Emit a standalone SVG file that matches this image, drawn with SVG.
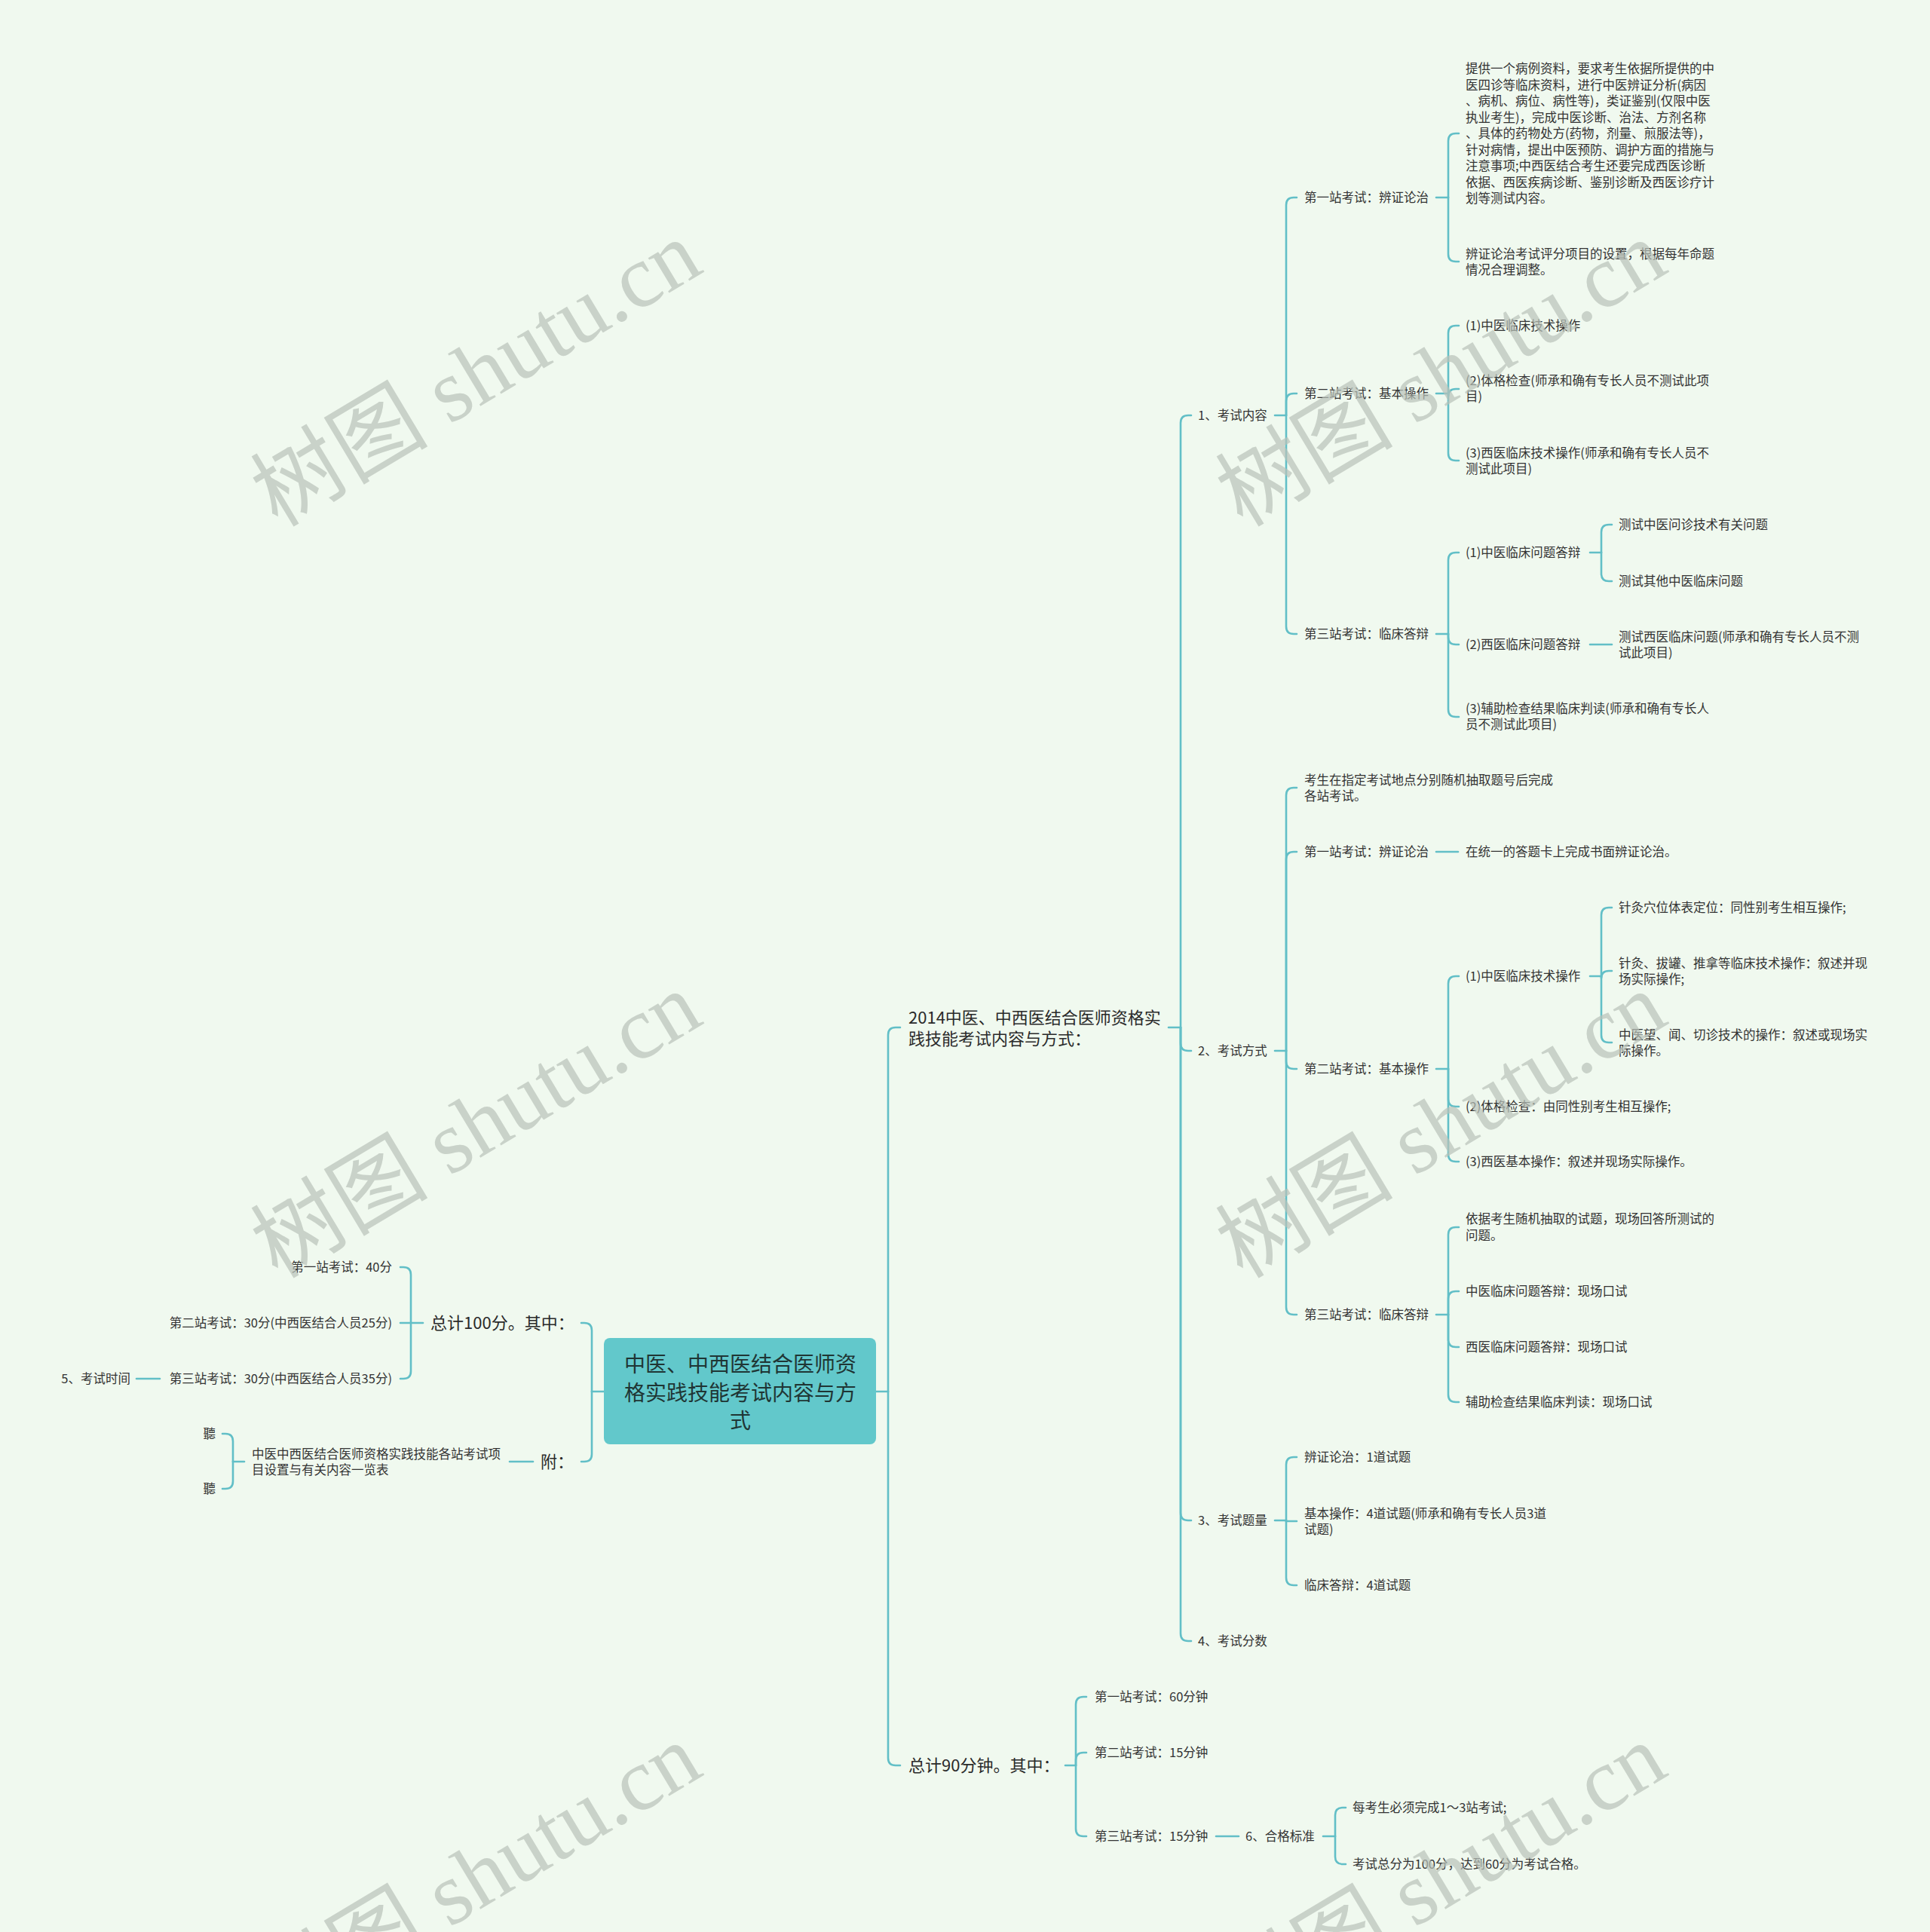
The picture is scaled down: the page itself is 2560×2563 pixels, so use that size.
<svg xmlns="http://www.w3.org/2000/svg" width="2560" height="2563" viewBox="0 0 2560 2563">
<style>
.bg{fill:#f0f9ef}
.ln{fill:none;stroke:#62bfc7;stroke-width:2.6;stroke-linecap:round}
text{font-family:"Noto Sans CJK SC","Noto Sans",sans-serif;fill:#333}
.t{font-size:16.5px}
.m{font-size:22px;fill:#2a2a2a}
.c{font-size:28px;fill:#1f3534}
.e{text-anchor:end}
.wm{font-family:"Liberation Serif","Noto Sans CJK SC",serif;font-size:118px;fill:#b9c2b9;opacity:0.7;text-anchor:middle}
</style>
<rect class="bg" x="0" y="0" width="2560" height="2563"/>

<g id="connectors">
<path class="ln" d="M1162,1846 H1178"/>
<path class="ln" d="M1178,1846 V1373 Q1178,1363 1188,1363 H1194"/>
<path class="ln" d="M1178,1846 V2332 Q1178,2342 1188,2342 H1194"/>
<path class="ln" d="M1550,1363 H1566"/>
<path class="ln" d="M1566,1363 V561 Q1566,551 1576,551 H1580"/>
<path class="ln" d="M1566,1363 V1384 Q1566,1394 1576,1394 H1580"/>
<path class="ln" d="M1566,1363 V2007 Q1566,2017 1576,2017 H1580"/>
<path class="ln" d="M1566,1363 V2167 Q1566,2177 1576,2177 H1580"/>
<path class="ln" d="M1691,551 H1706"/>
<path class="ln" d="M1706,551 V272 Q1706,262 1716,262 H1720"/>
<path class="ln" d="M1706,551 V532 Q1706,522 1716,522 H1720"/>
<path class="ln" d="M1706,551 V831 Q1706,841 1716,841 H1720"/>
<path class="ln" d="M1905,262 H1921"/>
<path class="ln" d="M1921,262 V187 Q1921,177 1931,177 H1935"/>
<path class="ln" d="M1921,262 V337 Q1921,347 1931,347 H1935"/>
<path class="ln" d="M1905,522 H1921"/>
<path class="ln" d="M1921,522 V442 Q1921,432 1931,432 H1935"/>
<path class="ln" d="M1921,522 V526 Q1921,516 1931,516 H1935"/>
<path class="ln" d="M1921,522 V601 Q1921,611 1931,611 H1935"/>
<path class="ln" d="M1905,841 H1921"/>
<path class="ln" d="M1921,841 V743 Q1921,733 1931,733 H1935"/>
<path class="ln" d="M1921,841 V845 Q1921,855 1931,855 H1935"/>
<path class="ln" d="M1921,841 V941 Q1921,951 1931,951 H1935"/>
<path class="ln" d="M2109,733 H2124"/>
<path class="ln" d="M2124,733 V706 Q2124,696 2134,696 H2138"/>
<path class="ln" d="M2124,733 V761 Q2124,771 2134,771 H2138"/>
<path class="ln" d="M2109,855 H2138"/>
<path class="ln" d="M1691,1394 H1706"/>
<path class="ln" d="M1706,1394 V1055 Q1706,1045 1716,1045 H1720"/>
<path class="ln" d="M1706,1394 V1140 Q1706,1130 1716,1130 H1720"/>
<path class="ln" d="M1706,1394 V1408 Q1706,1418 1716,1418 H1720"/>
<path class="ln" d="M1706,1394 V1734 Q1706,1744 1716,1744 H1720"/>
<path class="ln" d="M1905,1130 H1934"/>
<path class="ln" d="M1905,1418 H1921"/>
<path class="ln" d="M1921,1418 V1305 Q1921,1295 1931,1295 H1935"/>
<path class="ln" d="M1921,1418 V1458 Q1921,1468 1931,1468 H1935"/>
<path class="ln" d="M1921,1418 V1531 Q1921,1541 1931,1541 H1935"/>
<path class="ln" d="M2109,1295 H2124"/>
<path class="ln" d="M2124,1295 V1214 Q2124,1204 2134,1204 H2138"/>
<path class="ln" d="M2124,1295 V1298 Q2124,1288 2134,1288 H2138"/>
<path class="ln" d="M2124,1295 V1373 Q2124,1383 2134,1383 H2138"/>
<path class="ln" d="M1905,1744 H1921"/>
<path class="ln" d="M1921,1744 V1638 Q1921,1628 1931,1628 H1935"/>
<path class="ln" d="M1921,1744 V1723 Q1921,1713 1931,1713 H1935"/>
<path class="ln" d="M1921,1744 V1777 Q1921,1787 1931,1787 H1935"/>
<path class="ln" d="M1921,1744 V1850 Q1921,1860 1931,1860 H1935"/>
<path class="ln" d="M1691,2017 H1706"/>
<path class="ln" d="M1706,2017 V1943 Q1706,1933 1716,1933 H1720"/>
<path class="ln" d="M1706,2017 V2018 H1720"/>
<path class="ln" d="M1706,2017 V2093 Q1706,2103 1716,2103 H1720"/>
<path class="ln" d="M1413,2342 H1427"/>
<path class="ln" d="M1427,2342 V2261 Q1427,2251 1437,2251 H1441"/>
<path class="ln" d="M1427,2342 V2335 Q1427,2325 1437,2325 H1441"/>
<path class="ln" d="M1427,2342 V2426 Q1427,2436 1437,2436 H1441"/>
<path class="ln" d="M1613,2436 H1643"/>
<path class="ln" d="M1755,2436 H1771"/>
<path class="ln" d="M1771,2436 V2408 Q1771,2398 1781,2398 H1785"/>
<path class="ln" d="M1771,2436 V2463 Q1771,2473 1781,2473 H1785"/>
<path class="ln" d="M801,1846 H785"/>
<path class="ln" d="M785,1846 V1765 Q785,1755 775,1755 H771"/>
<path class="ln" d="M785,1846 V1929 Q785,1939 775,1939 H771"/>
<path class="ln" d="M561,1755 H545"/>
<path class="ln" d="M545,1755 V1691 Q545,1681 535,1681 H531"/>
<path class="ln" d="M545,1755 H531"/>
<path class="ln" d="M545,1755 V1819 Q545,1829 535,1829 H531"/>
<path class="ln" d="M212,1829 H181"/>
<path class="ln" d="M707,1939 H676"/>
<path class="ln" d="M324,1939 H309"/>
<path class="ln" d="M309,1939 V1912 Q309,1902 299,1902 H295"/>
<path class="ln" d="M309,1939 V1965 Q309,1975 299,1975 H295"/>
</g>

<g id="center">
<rect x="801" y="1775" width="361" height="141" rx="8" fill="#62c8cb"/>
<text class="c" text-anchor="middle"><tspan x="982" y="1820">中医、中西医结合医师资</tspan><tspan x="982" y="1858">格实践技能考试内容与方</tspan><tspan x="982" y="1895">式</tspan></text>
</g>

<g id="n2014"><text class="m"><tspan x="1205" y="1358">2014中医、中西医结合医师资格实</tspan><tspan x="1205" y="1386">践技能考试内容与方式：</tspan></text></g>
<g id="n90"><text class="m" x="1205" y="2350">总计90分钟。其中：</text></g>

<g id="l1-1"><text class="t" x="1589" y="557">1、考试内容</text></g>
<g id="l1-2"><text class="t" x="1589" y="1400">2、考试方式</text></g>
<g id="l1-3"><text class="t" x="1589" y="2023">3、考试题量</text></g>
<g id="l1-4"><text class="t" x="1589" y="2183">4、考试分数</text></g>

<g id="a1"><text class="t" x="1730" y="268">第一站考试：辨证论治</text></g>
<g id="a1-1"><text class="t"><tspan x="1944" y="97">提供一个病例资料，要求考生依据所提供的中</tspan><tspan x="1944" y="118.5">医四诊等临床资料，进行中医辨证分析(病因</tspan><tspan x="1944" y="140">、病机、病位、病性等)，类证鉴别(仅限中医</tspan><tspan x="1944" y="161.5">执业考生)，完成中医诊断、治法、方剂名称</tspan><tspan x="1944" y="183">、具体的药物处方(药物，剂量、煎服法等)，</tspan><tspan x="1944" y="204.5">针对病情，提出中医预防、调护方面的措施与</tspan><tspan x="1944" y="226">注意事项;中西医结合考生还要完成西医诊断</tspan><tspan x="1944" y="247.5">依据、西医疾病诊断、鉴别诊断及西医诊疗计</tspan><tspan x="1944" y="269">划等测试内容。</tspan></text></g>
<g id="a1-2"><text class="t"><tspan x="1944" y="343">辨证论治考试评分项目的设置，根据每年命题</tspan><tspan x="1944" y="364">情况合理调整。</tspan></text></g>

<g id="a2"><text class="t" x="1730" y="528">第二站考试：基本操作</text></g>
<g id="a2-1"><text class="t" x="1944" y="438">(1)中医临床技术操作</text></g>
<g id="a2-2"><text class="t"><tspan x="1944" y="511">(2)体格检查(师承和确有专长人员不测试此项</tspan><tspan x="1944" y="532">目)</tspan></text></g>
<g id="a2-3"><text class="t"><tspan x="1944" y="607">(3)西医临床技术操作(师承和确有专长人员不</tspan><tspan x="1944" y="628">测试此项目)</tspan></text></g>

<g id="a3"><text class="t" x="1730" y="847">第三站考试：临床答辩</text></g>
<g id="a3-1"><text class="t" x="1944" y="739">(1)中医临床问题答辩</text></g>
<g id="a3-1-1"><text class="t" x="2147" y="702">测试中医问诊技术有关问题</text></g>
<g id="a3-1-2"><text class="t" x="2147" y="777">测试其他中医临床问题</text></g>
<g id="a3-2"><text class="t" x="1944" y="861">(2)西医临床问题答辩</text></g>
<g id="a3-2-1"><text class="t"><tspan x="2147" y="851">测试西医临床问题(师承和确有专长人员不测</tspan><tspan x="2147" y="872">试此项目)</tspan></text></g>
<g id="a3-3"><text class="t"><tspan x="1944" y="946">(3)辅助检查结果临床判读(师承和确有专长人</tspan><tspan x="1944" y="967">员不测试此项目)</tspan></text></g>

<g id="b0"><text class="t"><tspan x="1730" y="1041">考生在指定考试地点分别随机抽取题号后完成</tspan><tspan x="1730" y="1062">各站考试。</tspan></text></g>
<g id="b1"><text class="t" x="1730" y="1136">第一站考试：辨证论治</text></g>
<g id="b1-1"><text class="t" x="1944" y="1136">在统一的答题卡上完成书面辨证论治。</text></g>
<g id="b2"><text class="t" x="1730" y="1424">第二站考试：基本操作</text></g>
<g id="b2-1"><text class="t" x="1944" y="1301">(1)中医临床技术操作</text></g>
<g id="b2-1-1"><text class="t" x="2147" y="1210">针灸穴位体表定位：同性别考生相互操作;</text></g>
<g id="b2-1-2"><text class="t"><tspan x="2147" y="1284">针灸、拔罐、推拿等临床技术操作：叙述并现</tspan><tspan x="2147" y="1305">场实际操作;</tspan></text></g>
<g id="b2-1-3"><text class="t"><tspan x="2147" y="1379">中医望、闻、切诊技术的操作：叙述或现场实</tspan><tspan x="2147" y="1400">际操作。</tspan></text></g>
<g id="b2-2"><text class="t" x="1944" y="1474">(2)体格检查：由同性别考生相互操作;</text></g>
<g id="b2-3"><text class="t" x="1944" y="1547">(3)西医基本操作：叙述并现场实际操作。</text></g>
<g id="b3"><text class="t" x="1730" y="1750">第三站考试：临床答辩</text></g>
<g id="b3-1"><text class="t"><tspan x="1944" y="1623">依据考生随机抽取的试题，现场回答所测试的</tspan><tspan x="1944" y="1645">问题。</tspan></text></g>
<g id="b3-2"><text class="t" x="1944" y="1719">中医临床问题答辩：现场口试</text></g>
<g id="b3-3"><text class="t" x="1944" y="1793">西医临床问题答辩：现场口试</text></g>
<g id="b3-4"><text class="t" x="1944" y="1866">辅助检查结果临床判读：现场口试</text></g>

<g id="c1"><text class="t" x="1730" y="1939">辨证论治：1道试题</text></g>
<g id="c2"><text class="t"><tspan x="1730" y="2014">基本操作：4道试题(师承和确有专长人员3道</tspan><tspan x="1730" y="2035">试题)</tspan></text></g>
<g id="c3"><text class="t" x="1730" y="2109">临床答辩：4道试题</text></g>

<g id="t1"><text class="t" x="1452" y="2257">第一站考试：60分钟</text></g>
<g id="t2"><text class="t" x="1452" y="2331">第二站考试：15分钟</text></g>
<g id="t3"><text class="t" x="1452" y="2442">第三站考试：15分钟</text></g>
<g id="t6"><text class="t" x="1652" y="2442">6、合格标准</text></g>
<g id="t6-1"><text class="t" x="1794" y="2404">每考生必须完成1～3站考试;</text></g>
<g id="t6-2"><text class="t" x="1794" y="2479">考试总分为100分，达到60分为考试合格。</text></g>

<g id="n100"><text class="m" x="571" y="1763">总计100分。其中：</text></g>
<g id="s1"><text class="t e" x="520" y="1687">第一站考试：40分</text></g>
<g id="s2"><text class="t e" x="520" y="1761">第二站考试：30分(中西医结合人员25分)</text></g>
<g id="s3"><text class="t e" x="520" y="1835">第三站考试：30分(中西医结合人员35分)</text></g>
<g id="s5"><text class="t e" x="173" y="1835">5、考试时间</text></g>
<g id="fu"><text class="m" x="717" y="1947">附：</text></g>
<g id="fu-1"><text class="t"><tspan x="334" y="1935">中医中西医结合医师资格实践技能各站考试项</tspan><tspan x="334" y="1956">目设置与有关内容一览表</tspan></text></g>
<g id="fu-1-1"><text class="t e" x="286" y="1908">聽</text></g>
<g id="fu-1-2"><text class="t e" x="286" y="1981">聽</text></g>

<g id="watermarks">
<text class="wm" transform="translate(652,530) rotate(-31)">树图 shutu.cn</text>
<text class="wm" transform="translate(1932,530) rotate(-31)">树图 shutu.cn</text>
<text class="wm" transform="translate(652,1527) rotate(-31)">树图 shutu.cn</text>
<text class="wm" transform="translate(1932,1527) rotate(-31)">树图 shutu.cn</text>
<text class="wm" transform="translate(652,2524) rotate(-31)">树图 shutu.cn</text>
<text class="wm" transform="translate(1932,2524) rotate(-31)">树图 shutu.cn</text>
</g>
</svg>
